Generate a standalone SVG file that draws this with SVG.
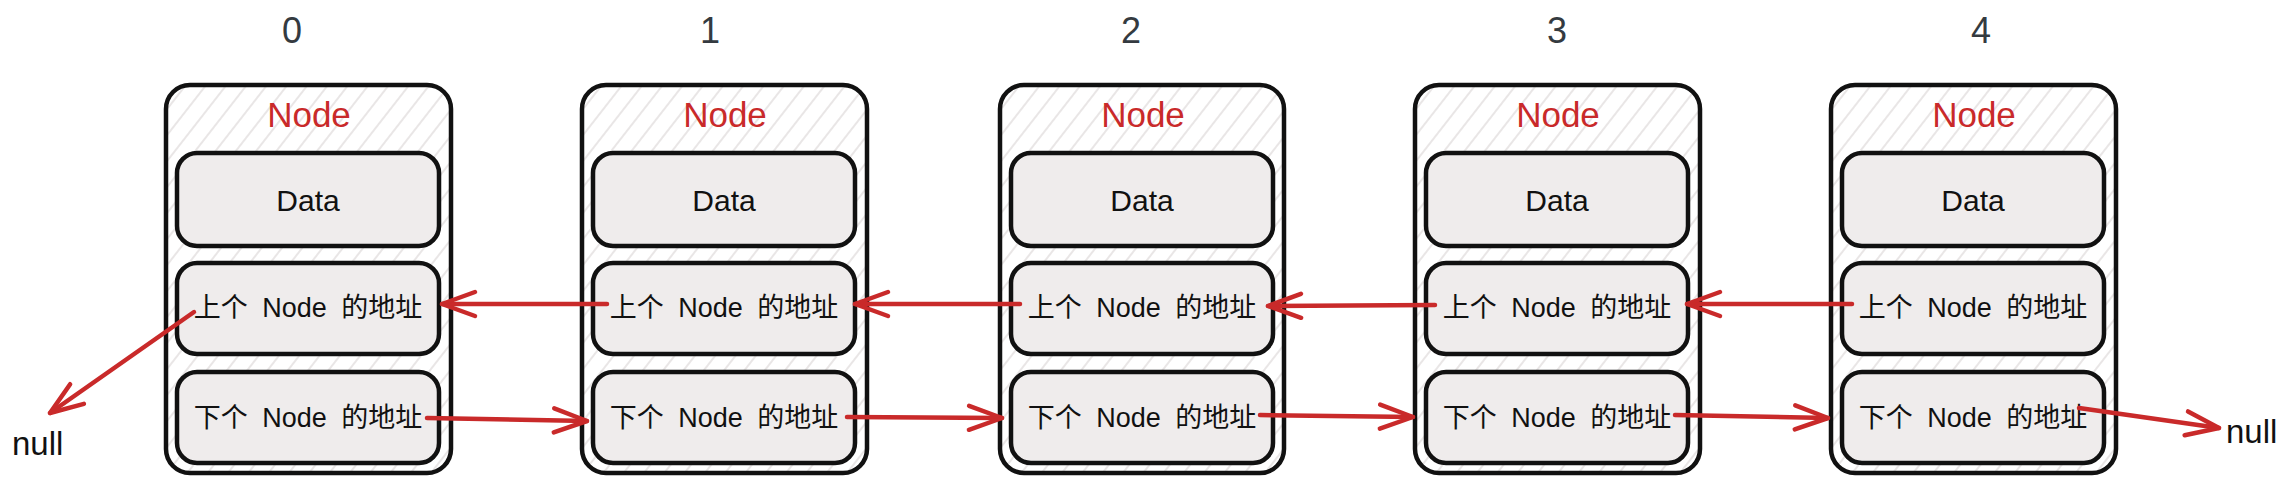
<svg xmlns="http://www.w3.org/2000/svg" width="2291" height="483" viewBox="0 0 2291 483">
  <defs>
    <pattern id="hatch" patternUnits="userSpaceOnUse" width="16" height="16" patternTransform="rotate(38)">
      <line x1="4" y1="0" x2="4" y2="16" stroke="#e4e0e0" stroke-width="1.6"/>
    </pattern>
    <marker id="arrow" markerUnits="userSpaceOnUse" markerWidth="50" markerHeight="40" refX="0" refY="0" viewBox="-40 -20 50 40" orient="auto" overflow="visible">
      <path d="M -33 -12 L 0 0 L -33 12" fill="none" stroke="#c92a2a" stroke-width="4.5" stroke-linecap="round" stroke-linejoin="round"/>
    </marker>
    <style>
      .outer { fill: url(#hatch); stroke: #111; stroke-width: 4.5; }
      .inner { fill: #efecec; stroke: #111; stroke-width: 4.5; }
      .title { font-family: "Liberation Sans", "Noto Sans", sans-serif; font-size: 35px; fill: #c92a2a; text-anchor: middle; }
      .data { font-family: "Liberation Sans", "Noto Sans", sans-serif; font-size: 30px; fill: #111; text-anchor: middle; }
      .addr { font-family: "Liberation Sans", "Noto Sans CJK SC", sans-serif; font-size: 27px; fill: #111; text-anchor: middle; word-spacing: 7px; }
      .idx { font-family: "Liberation Sans", "Noto Sans", sans-serif; font-size: 36px; fill: #343a40; text-anchor: middle; }
      .null { font-family: "Liberation Sans", "Noto Sans", sans-serif; font-size: 33px; fill: #111; }
      .conn { fill: none; stroke: #c92a2a; stroke-width: 4.5; stroke-linecap: round; marker-end: url(#arrow); }
    </style>
  </defs>
  <rect width="2291" height="483" fill="#ffffff"/>

  <g id="labels">
    <text class="idx" x="292" y="43">0</text>
    <text class="idx" x="710" y="43">1</text>
    <text class="idx" x="1131" y="43">2</text>
    <text class="idx" x="1557" y="43">3</text>
    <text class="idx" x="1981" y="43">4</text>
    <text class="null" x="12" y="455">null</text>
    <text class="null" x="2226" y="443">null</text>
  </g>

  <g id="node-0" transform="translate(166,0)">
    <rect class="outer" x="0" y="85" width="285" height="388" rx="24"/>
    <text class="title" x="143" y="127">Node</text>
    <rect class="inner" x="11" y="153" width="262" height="93" rx="20"/>
    <text class="data" x="142" y="211">Data</text>
    <rect class="inner" x="11" y="263" width="262" height="91" rx="20"/>
    <text class="addr" x="142" y="317">上个 Node 的地址</text>
    <rect class="inner" x="11" y="372" width="262" height="91" rx="20"/>
    <text class="addr" x="142" y="427">下个 Node 的地址</text>
  </g>

  <g id="node-1" transform="translate(582,0)">
    <rect class="outer" x="0" y="85" width="285" height="388" rx="24"/>
    <text class="title" x="143" y="127">Node</text>
    <rect class="inner" x="11" y="153" width="262" height="93" rx="20"/>
    <text class="data" x="142" y="211">Data</text>
    <rect class="inner" x="11" y="263" width="262" height="91" rx="20"/>
    <text class="addr" x="142" y="317">上个 Node 的地址</text>
    <rect class="inner" x="11" y="372" width="262" height="91" rx="20"/>
    <text class="addr" x="142" y="427">下个 Node 的地址</text>
  </g>

  <g id="node-2" transform="translate(1000,0)">
    <rect class="outer" x="0" y="85" width="284" height="388" rx="24"/>
    <text class="title" x="143" y="127">Node</text>
    <rect class="inner" x="11" y="153" width="262" height="93" rx="20"/>
    <text class="data" x="142" y="211">Data</text>
    <rect class="inner" x="11" y="263" width="262" height="91" rx="20"/>
    <text class="addr" x="142" y="317">上个 Node 的地址</text>
    <rect class="inner" x="11" y="372" width="262" height="91" rx="20"/>
    <text class="addr" x="142" y="427">下个 Node 的地址</text>
  </g>

  <g id="node-3" transform="translate(1415,0)">
    <rect class="outer" x="0" y="85" width="285" height="388" rx="24"/>
    <text class="title" x="143" y="127">Node</text>
    <rect class="inner" x="11" y="153" width="262" height="93" rx="20"/>
    <text class="data" x="142" y="211">Data</text>
    <rect class="inner" x="11" y="263" width="262" height="91" rx="20"/>
    <text class="addr" x="142" y="317">上个 Node 的地址</text>
    <rect class="inner" x="11" y="372" width="262" height="91" rx="20"/>
    <text class="addr" x="142" y="427">下个 Node 的地址</text>
  </g>

  <g id="node-4" transform="translate(1831,0)">
    <rect class="outer" x="0" y="85" width="285" height="388" rx="24"/>
    <text class="title" x="143" y="127">Node</text>
    <rect class="inner" x="11" y="153" width="262" height="93" rx="20"/>
    <text class="data" x="142" y="211">Data</text>
    <rect class="inner" x="11" y="263" width="262" height="91" rx="20"/>
    <text class="addr" x="142" y="317">上个 Node 的地址</text>
    <rect class="inner" x="11" y="372" width="262" height="91" rx="20"/>
    <text class="addr" x="142" y="427">下个 Node 的地址</text>
  </g>

  <g id="connectors">
    <path class="conn" d="M 194 312 L 50 413"/>
    <path class="conn" d="M 607 304 L 442 304"/>
    <path class="conn" d="M 1020 304 L 855 304"/>
    <path class="conn" d="M 1435 305 L 1268 306"/>
    <path class="conn" d="M 1852 304 L 1687 304"/>
    <path class="conn" d="M 427 418 L 587 421"/>
    <path class="conn" d="M 847 417 L 1002 418"/>
    <path class="conn" d="M 1260 415 L 1413 417"/>
    <path class="conn" d="M 1675 415 L 1828 418"/>
    <path class="conn" d="M 2079 408 L 2219 428"/>
  </g>
</svg>
